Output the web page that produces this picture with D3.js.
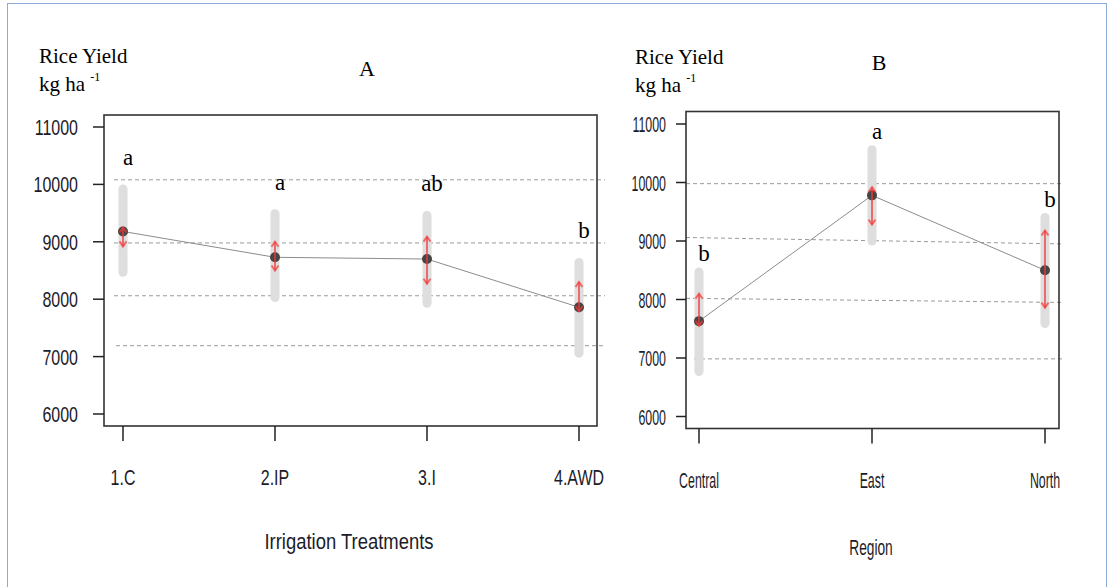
<!DOCTYPE html>
<html>
<head>
<meta charset="utf-8">
<script src="https://cdn.jsdelivr.net/npm/d3@7/dist/d3.min.js"></script>
<style>
  body { margin: 0; background: #fff; }
  svg { display: block; }
</style>
</head>
<body>
<svg id="chart" width="1109" height="587"></svg>
<script>
// panel A: irrigation treatments
var catsA = ['1.C', '2.IP', '3.I', '4.AWD'];
var meanA = [9180, 8730, 8700, 7860];
var ciLoA = [8400, 7960, 7860, 6990];
var ciHiA = [9990, 9560, 9530, 8710];
var cmpLoA = [8920, 8500, 8270, 7790];
var cmpHiA = [9250, 9000, 9090, 8300];
var lettersA = ['a', 'a', 'ab', 'b'];
var refA = [[10080, 10080], [8980, 8980], [8060, 8060], [7190, 7190]];

// panel B: region
var catsB = ['Central', 'East', 'North'];
var meanB = [7630, 9780, 8500];
var ciLoB = [6700, 8930, 7520];
var ciHiB = [8540, 10630, 9470];
var cmpLoB = [7550, 9280, 7860];
var cmpHiB = [8100, 9920, 9180];
var lettersB = ['b', 'a', 'b'];
var refB = [[9980, 9980], [9060, 8950], [8020, 7950], [6985, 6985]];

var yTicks = [6000, 7000, 8000, 9000, 10000, 11000];

var sans = "'Liberation Sans', Arial, sans-serif";
var serif = "'Liberation Serif', 'Times New Roman', serif";

var svg = d3.select('#chart');

// outer frame
svg.append('rect')
    .attr('x', 7.5).attr('y', 3.5)
    .attr('width', 1099).attr('height', 600)
    .attr('fill', 'none')
    .attr('stroke', '#8eaad8')
    .attr('stroke-width', 1);

function squeezed(g, x, y, txt, sx, size, anchor, fam, col) {
    return g.append('text')
        .attr('transform', 'translate(' + x + ',' + y + ') scale(' + sx + ',1)')
        .attr('text-anchor', anchor)
        .attr('font-family', fam)
        .attr('font-size', size)
        .attr('fill', col || '#1c1c2a')
        .text(txt);
}

function drawPanel(p) {
    var g = svg.append('g');
    var x = d3.scalePoint().domain(p.cats).range(p.xRange);
    var y = d3.scaleLinear().domain([6000, 11000]).range(p.yRange);

    // y labels
    squeezed(g, p.titleX, p.titleY, 'Rice Yield', 1, 21, 'start', serif, '#000');
    var kg = g.append('text')
        .attr('x', p.titleX).attr('y', p.titleY + 28)
        .attr('font-family', serif).attr('font-size', 21).attr('fill', '#000');
    kg.append('tspan').text('kg ha ');
    kg.append('tspan').attr('font-size', 12).attr('dy', -10).text('-1');

    squeezed(g, p.headX, p.headY, p.head, 1, 22, 'middle', serif, '#000');

    // dashed reference lines
    g.selectAll('.ref').data(p.ref).enter().append('line')
        .attr('x1', function(d, i) { return i == 3 ? p.refX[0] + p.refLastShift : p.refX[0]; })
        .attr('x2', p.refX[1])
        .attr('y1', function(d) { return y(d[0]); })
        .attr('y2', function(d) { return y(d[1]); })
        .attr('stroke', '#9a9a9a')
        .attr('stroke-width', 1)
        .attr('stroke-dasharray', '4,3');

    // box
    g.append('rect')
        .attr('x', p.box[0]).attr('y', p.box[1])
        .attr('width', p.box[2] - p.box[0]).attr('height', p.box[3] - p.box[1])
        .attr('fill', 'none').attr('stroke', '#333').attr('stroke-width', 1.6);

    // y ticks
    g.selectAll('.yt').data(yTicks).enter().append('line')
        .attr('x1', p.box[0] - p.yTickLen).attr('x2', p.box[0])
        .attr('y1', function(d) { return y(d); })
        .attr('y2', function(d) { return y(d); })
        .attr('stroke', '#222').attr('stroke-width', 1.5);
    yTicks.forEach(function(t) {
        squeezed(g, p.yLabelX, y(t) + 8, t, p.sx, 22.5, 'end', sans);
    });

    // x ticks
    g.selectAll('.xt').data(p.cats).enter().append('line')
        .attr('x1', function(d) { return x(d); })
        .attr('x2', function(d) { return x(d); })
        .attr('y1', p.box[3]).attr('y2', p.box[3] + 15)
        .attr('stroke', '#222').attr('stroke-width', 1.5);
    p.cats.forEach(function(c) {
        squeezed(g, x(c), p.xLabelY, c, p.sx, 22.5, 'middle', sans);
    });
    squeezed(g, p.axisTitleX, p.axisTitleY, p.axisTitle, p.axisTitleSx, 22.5, 'middle', sans);

    // grey intervals
    g.selectAll('.ci').data(p.cats).enter().append('line')
        .attr('x1', function(d) { return x(d); })
        .attr('x2', function(d) { return x(d); })
        .attr('y1', function(d, i) { return y(p.ciHi[i]) + 4; })
        .attr('y2', function(d, i) { return y(p.ciLo[i]) - 4; })
        .attr('stroke', '#dedede').attr('stroke-width', 9)
        .attr('stroke-linecap', 'round');

    // mean line
    g.append('path')
        .datum(p.mean)
        .attr('d', d3.line()
            .x(function(d, i) { return x(p.cats[i]); })
            .y(function(d) { return y(d); }))
        .attr('fill', 'none').attr('stroke', '#8c8c8c').attr('stroke-width', 1);

    // mean dots
    g.selectAll('.dot').data(p.mean).enter().append('circle')
        .attr('cx', function(d, i) { return x(p.cats[i]); })
        .attr('cy', function(d) { return y(d); })
        .attr('r', 5)
        .attr('fill', '#454545');

    // red comparison arrows
    var red = 'rgba(245,55,55,0.7)';
    p.cats.forEach(function(c, i) {
        var cx = x(c), cy = y(p.mean[i]);
        [p.cmpHi[i], p.cmpLo[i]].forEach(function(v) {
            var ey = y(v);
            var dir = ey < cy ? 1 : -1;
            g.append('line')
                .attr('x1', cx).attr('x2', cx)
                .attr('y1', cy).attr('y2', ey)
                .attr('stroke', red).attr('stroke-width', 2);
            g.append('path')
                .attr('d', 'M' + (cx - 3.5) + ',' + (ey + dir * 5) + 'L' + cx + ',' + ey +
                    'L' + (cx + 3.5) + ',' + (ey + dir * 5))
                .attr('fill', 'none')
                .attr('stroke', red).attr('stroke-width', 2);
        });
    });

    // letters
    p.cats.forEach(function(c, i) {
        squeezed(g, x(c) + 5, y(p.ciHi[i]) - p.letterGap, p.letters[i], 1, 23, 'middle', serif, '#000');
    });
}

drawPanel({
    cats: catsA, mean: meanA, ciLo: ciLoA, ciHi: ciHiA, cmpLo: cmpLoA, cmpHi: cmpHiA,
    letters: lettersA, ref: refA,
    xRange: [123, 579], yRange: [414, 127],
    box: [104, 115, 597, 426],
    refX: [114, 605], refLastShift: 2,
    yTickLen: 11, yLabelX: 78, sx: 0.71,
    xLabelY: 485,
    titleX: 39, titleY: 63, head: 'A', headX: 367, headY: 76,
    axisTitle: 'Irrigation Treatments', axisTitleX: 349, axisTitleY: 549, axisTitleSx: 0.82,
    letterGap: 20
});

drawPanel({
    cats: catsB, mean: meanB, ciLo: ciLoB, ciHi: ciHiB, cmpLo: cmpLoB, cmpHi: cmpHiB,
    letters: lettersB, ref: refB,
    xRange: [699, 1045], yRange: [416.5, 124],
    box: [686, 111.5, 1059, 428.5],
    refX: [686, 1063], refLastShift: 8,
    yTickLen: 10, yLabelX: 666, sx: 0.55,
    xLabelY: 488,
    titleX: 635, titleY: 64, head: 'B', headX: 879, headY: 70,
    axisTitle: 'Region', axisTitleX: 871, axisTitleY: 555, axisTitleSx: 0.61,
    letterGap: 7
});
</script>
</body>
</html>
